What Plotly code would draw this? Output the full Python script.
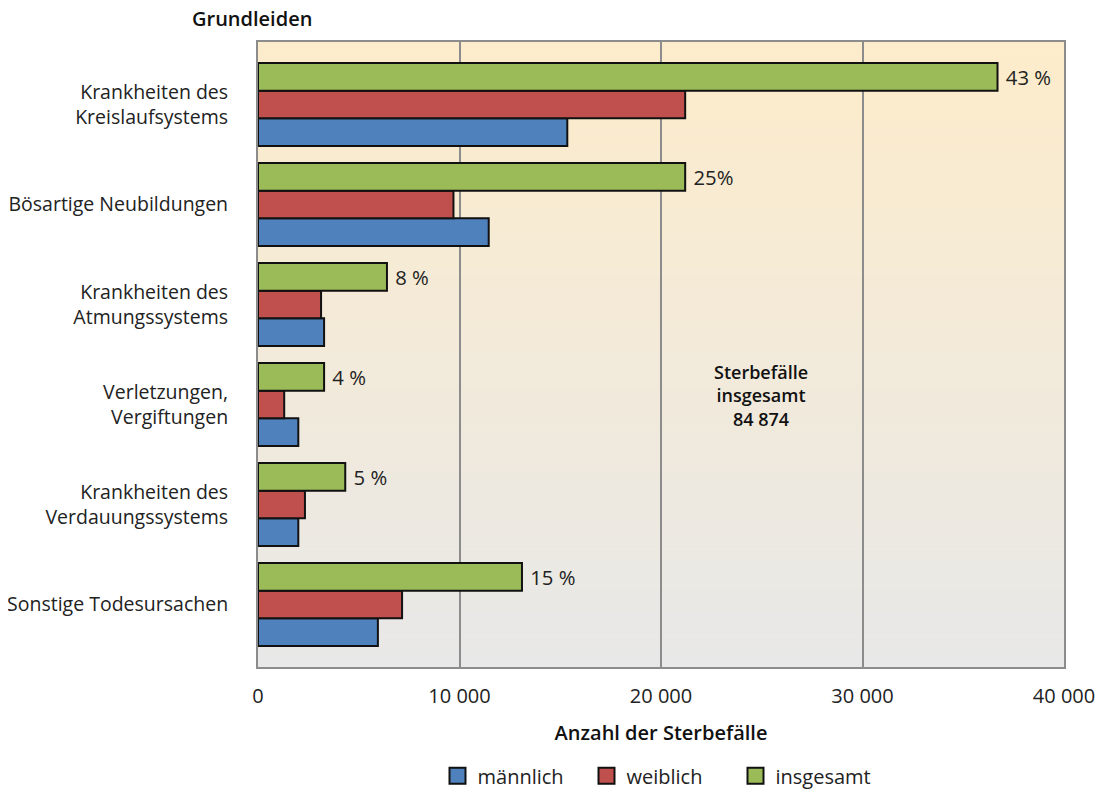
import plotly.graph_objects as go

categories = ["Krankheiten des<br>Kreislaufsystems", "Bösartige Neubildungen",
              "Krankheiten des<br>Atmungssystems", "Verletzungen,<br>Vergiftungen",
              "Krankheiten des<br>Verdauungssystems", "Sonstige Todesursachen"]
maennlich = [15350, 11450, 3280, 2000, 2000, 5950]
weiblich = [21200, 9700, 3130, 1300, 2330, 7150]
insgesamt = [36700, 21200, 6400, 3280, 4330, 13100]
anteil = ["43 %", "25%", "8 %", "4 %", "5 %", "15 %"]
xticks = [0, 10000, 20000, 30000, 40000]
xticklabels = ["0", "10 000", "20 000", "30 000", "40 000"]
series_names = ["männlich", "weiblich", "insgesamt"]
series_colors = ["#4f81bd", "#c0504d", "#9bbb59"]

FONT = "Open Sans"
fig = go.Figure()
line = dict(color="#111111", width=2)
values = [maennlich, weiblich, insgesamt]
for name, col, vals in zip(series_names, series_colors, values):
    kw = {}
    if name == "insgesamt":
        kw = dict(text=anteil, texttemplate=" %{text}", textposition="outside",
                  cliponaxis=False,
                  textfont=dict(size=22, color="#222222", family=FONT))
    fig.add_bar(y=categories, x=vals, orientation="h", name=name, showlegend=False,
                marker=dict(color=col, line=line), **kw)
# legend entries with larger square symbols
for name, col in zip(series_names, series_colors):
    fig.add_scatter(x=[None], y=[None], mode="markers", name=name,
                    marker=dict(symbol="square", size=16, color=col,
                                line=dict(color="#111111", width=2)))

# gradient background
n = 80
top = (253, 236, 203)
bot = (232, 232, 232)
shapes = []
for i in range(n):
    t = i / (n - 1)
    c = tuple(round(top[k] + (bot[k] - top[k]) * t) for k in range(3))
    shapes.append(dict(type="rect", xref="x domain", yref="y domain",
                       x0=0, x1=1, y0=1 - (i + 1) / n, y1=1 - i / n + 0.001,
                       fillcolor="rgb(%d,%d,%d)" % c, line=dict(width=0),
                       layer="below"))

fig.update_layout(
    width=1107, height=791,
    margin=dict(l=250, r=51, t=34, b=132, autoexpand=False),
    barmode="group", bargap=0.17, bargroupgap=0,
    paper_bgcolor="white", plot_bgcolor="rgba(0,0,0,0)",
    font=dict(family=FONT, size=19.5, color="#222222"),
    shapes=shapes,
    legend=dict(orientation="h", x=0.5, xanchor="center", y=-0.174, yanchor="middle",
                font=dict(size=20), itemwidth=30, entrywidth=104,
                itemsizing="trace", traceorder="normal"),
    annotations=[
        dict(text="Sterbefälle<br>insgesamt<br>84 874", xref="x domain", yref="y domain",
             x=0.624, y=0.435, showarrow=False,
             font=dict(size=18, color="#111111", weight=600)),
        dict(text="Grundleiden", xref="paper", yref="paper", x=-0.084, y=1.037,
             xanchor="left", yanchor="middle", showarrow=False,
             font=dict(size=20, color="#111111", weight=600)),
    ],
)
fig.update_xaxes(range=[0, 40000], tickvals=xticks, ticktext=xticklabels,
                 showgrid=True, gridcolor="#8c8c8c", gridwidth=2,
                 showline=True, linecolor="#8c8c8c", linewidth=2, mirror=True,
                 zeroline=False, ticks="", ticklabelstandoff=10,
                 tickfont=dict(size=20),
                 title=dict(text="Anzahl der Sterbefälle", standoff=18,
                            font=dict(size=20, color="#111111", weight=600)))
fig.update_yaxes(categoryorder="array", categoryarray=categories[::-1],
                 range=[-0.625, 5.625],
                 showgrid=False, showline=True, linecolor="#8c8c8c", linewidth=2,
                 mirror=True, ticks="", ticklabelstandoff=24,
                 tickfont=dict(size=19.5))

fig.write_html("out.html")
